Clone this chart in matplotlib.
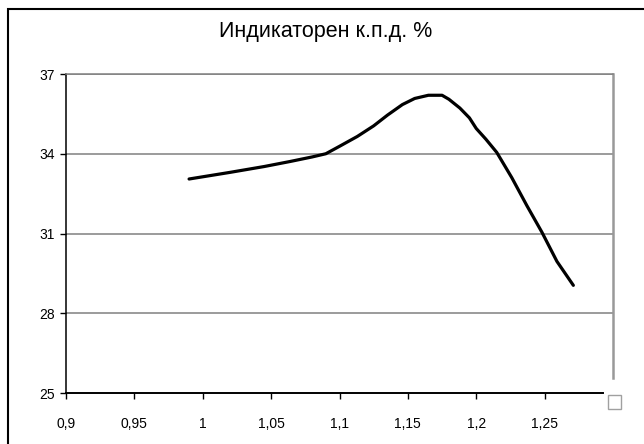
import matplotlib.pyplot as plt
from matplotlib.patches import Rectangle
from matplotlib.ticker import FixedLocator, FuncFormatter

plt.rcParams['font.family'] = ['Liberation Sans', 'DejaVu Sans']

# Индикаторен к.п.д. в зависимост от коефициента на излишък на въздуха
alpha = [0.99, 1.02, 1.045, 1.064, 1.08, 1.09, 1.10, 1.113, 1.125, 1.135,
         1.146, 1.155, 1.165, 1.175, 1.18, 1.188, 1.195, 1.20, 1.207,
         1.215, 1.226, 1.237, 1.248, 1.259, 1.271]
eta_i = [33.05, 33.3, 33.52, 33.71, 33.88, 34.0, 34.28, 34.65, 35.05, 35.45,
         35.85, 36.08, 36.2, 36.2, 36.05, 35.72, 35.35, 34.95, 34.55,
         34.05, 33.1, 32.05, 31.05, 29.95, 29.05]

x_ticks = [0.9, 0.95, 1.0, 1.05, 1.1, 1.15, 1.2, 1.25]
y_ticks = [25, 28, 31, 34, 37]
title = 'Индикаторен к.п.д. %'

fig = plt.figure(figsize=(6.44, 4.44), dpi=100)
ax = fig.add_axes([66 / 644, 1 - 393 / 444, 547 / 644, 319 / 444])

ax.plot(alpha, eta_i, color='black', lw=2.3, solid_joinstyle='round',
        solid_capstyle='round')

ax.set_xlim(0.9, 1.3)
ax.set_ylim(25, 37)
ax.xaxis.set_major_locator(FixedLocator(x_ticks))
ax.yaxis.set_major_locator(FixedLocator(y_ticks))
ax.xaxis.set_major_formatter(FuncFormatter(lambda v, p: f'{v:g}'.replace('.', ',')))
ax.yaxis.set_major_formatter(FuncFormatter(lambda v, p: f'{v:g}'))

# хоризонтална мрежа
for yv in y_ticks[1:]:
    ax.axhline(yv, color='#808080', lw=1.1, zorder=0)

ax.spines['left'].set_color('black')
ax.spines['bottom'].set_color('black')
ax.spines['left'].set_linewidth(1.1)
ax.spines['bottom'].set_linewidth(1.4)
ax.spines['bottom'].set_bounds(0.9, 1.2925)
ax.spines['top'].set_color('#808080')
ax.spines['top'].set_linewidth(1.1)
ax.spines['right'].set_color('#999999')
ax.spines['right'].set_linewidth(1.8)
ax.spines['right'].set_bounds(25.55, 37)

ax.tick_params(axis='x', direction='out', length=4, width=1, pad=13,
               labelsize=10, colors='black')
ax.tick_params(axis='y', direction='out', length=4, width=1, pad=4,
               labelsize=10, colors='black')

fig.text(326 / 644, 1 - 37 / 444, title, ha='center', va='baseline', fontsize=15.5)

# рамка на диаграмата
fig.patches.append(Rectangle((8 / 644, -0.2), 1.2, 0.2 + 1 - 9 / 444,
                             transform=fig.transFigure, fill=False,
                             edgecolor='black', lw=1.5))
fig.patches.append(Rectangle((608 / 644, 1 - 409 / 444), 13 / 644, 14 / 444,
                             transform=fig.transFigure, fill=False,
                             edgecolor='#a0a0a0', lw=1))

fig.savefig('out.png', dpi=100)
